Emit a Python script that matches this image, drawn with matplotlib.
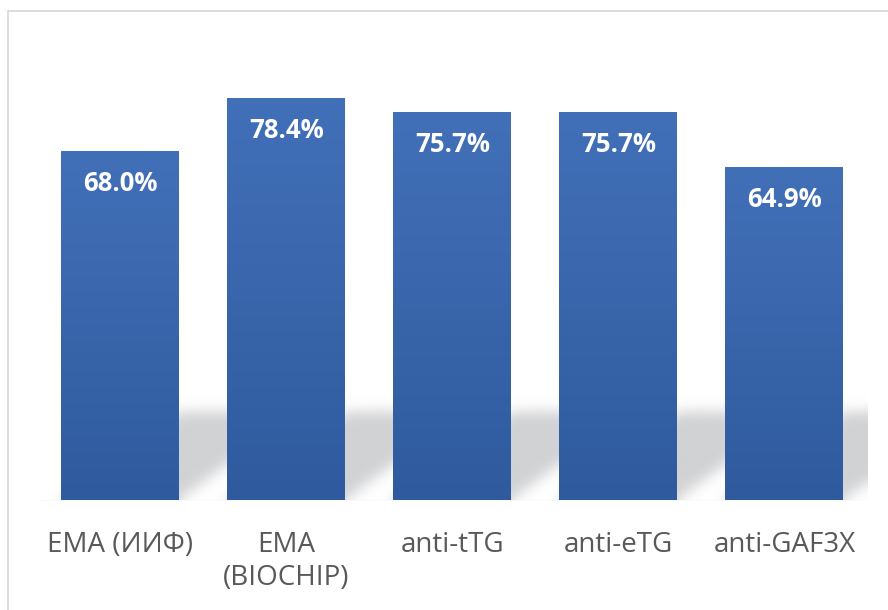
import numpy as np
import matplotlib
matplotlib.use("Agg")
import matplotlib.pyplot as plt
from matplotlib.patches import Rectangle

# data
categories = ["EMA (ИИФ)", "EMA\n(BIOCHIP)", "anti-tTG", "anti-eTG", "anti-GAF3X"]
values = [68.0, 78.4, 75.7, 75.7, 64.9]
value_labels = ["68.0%", "78.4%", "75.7%", "75.7%", "64.9%"]

W, H = 888, 610
DPI = 100
fig = plt.figure(figsize=(W / DPI, H / DPI), dpi=DPI)
fig.patch.set_facecolor("white")

# plot area in pixels (left, top, right, bottom)
L, T, R, B = 37, 39.7, 867.5, 500.5
ax = fig.add_axes([L / W, 1 - B / H, (R - L) / W, (B - T) / H])
ax.set_xlim(-0.5, len(categories) - 0.5)
ax.set_ylim(0, 90)
ax.patch.set_alpha(0)
for s in ax.spines.values():
    s.set_visible(False)
ax.set_yticks([])
ax.axhline(0, color="#e3e6ec", lw=1.0, zorder=1)

x = np.arange(len(categories))
bar_w = 0.71
bars = ax.bar(x, values, width=bar_w, color="none", edgecolor="none", zorder=3)

# perspective shadow behind bars (blurred parallelograms)
sh_h = 17.2          # shadow height in data units
sh_dx = 0.72         # horizontal shift at the top
nx, ny = 830, 160
y_top = 30.0
gx = np.linspace(-0.5, len(categories) - 0.5, nx)
gy = np.linspace(0, y_top, ny)
XX, YY = np.meshgrid(gx, gy)
mask = np.zeros_like(XX)
for xi in x:
    xs = XX - sh_dx * YY / sh_h
    inside = (np.abs(xs - xi) <= bar_w / 2) & (YY <= sh_h)
    mask[inside] = 1.0


def blur(a, sigma, axis):
    r = int(3 * sigma) + 1
    k = np.exp(-0.5 * (np.arange(-r, r + 1) / sigma) ** 2)
    k /= k.sum()
    pad = [(0, 0), (0, 0)]
    pad[axis] = (r, r)
    ap = np.pad(a, pad, mode="edge")
    return np.apply_along_axis(lambda v: np.convolve(v, k, mode="valid"), axis, ap)


sig_px = 6.5
mask = blur(mask, sig_px * (ny / (y_top * 5.12)), 0)
mask = blur(mask, sig_px * (nx / (R - L)), 1)
rgba = np.zeros((ny, nx, 4))
rgba[..., 0] = 0xd1 / 255
rgba[..., 1] = 0xd2 / 255
rgba[..., 2] = 0xd4 / 255
rgba[..., 3] = np.clip(mask, 0, 1)
ax.imshow(rgba, extent=(gx[0], gx[-1], 0, y_top), origin="lower",
          aspect="auto", zorder=2, interpolation="bilinear")

# gradient fill for each bar
top_c = np.array([0x42, 0x70, 0xb8]) / 255
bot_c = np.array([0x2f, 0x5a, 0x9e]) / 255
grad = np.linspace(0, 1, 256)[:, None]
grad_img = bot_c[None, :] * (1 - grad) + top_c[None, :] * grad
grad_img = grad_img[:, None, :]
for b in bars:
    ax.imshow(grad_img, extent=(b.get_x(), b.get_x() + b.get_width(), 0, b.get_height()),
              origin="lower", aspect="auto", zorder=3)

for xi, v, lab in zip(x, values, value_labels):
    ax.annotate(lab, (xi, v), xytext=(0, -22.5), textcoords="offset points",
                ha="center", va="center", color="white", fontsize=18.5,
                fontweight="bold", family=["Open Sans", "DejaVu Sans"], zorder=5)

ax.set_xticks(x)
ax.set_xticklabels(categories, fontsize=20, color="#595959",
                   family=["Open Sans", "DejaVu Sans"], linespacing=1.25)
ax.tick_params(axis="x", length=0, pad=22)

# chart border
fig.patches.append(Rectangle((8 / W, -0.1), 1.2, 1 - 11 / H + 0.1, transform=fig.transFigure,
                             fill=False, edgecolor="#d9d9d9", lw=1.3))

fig.savefig("out.png", dpi=DPI)
